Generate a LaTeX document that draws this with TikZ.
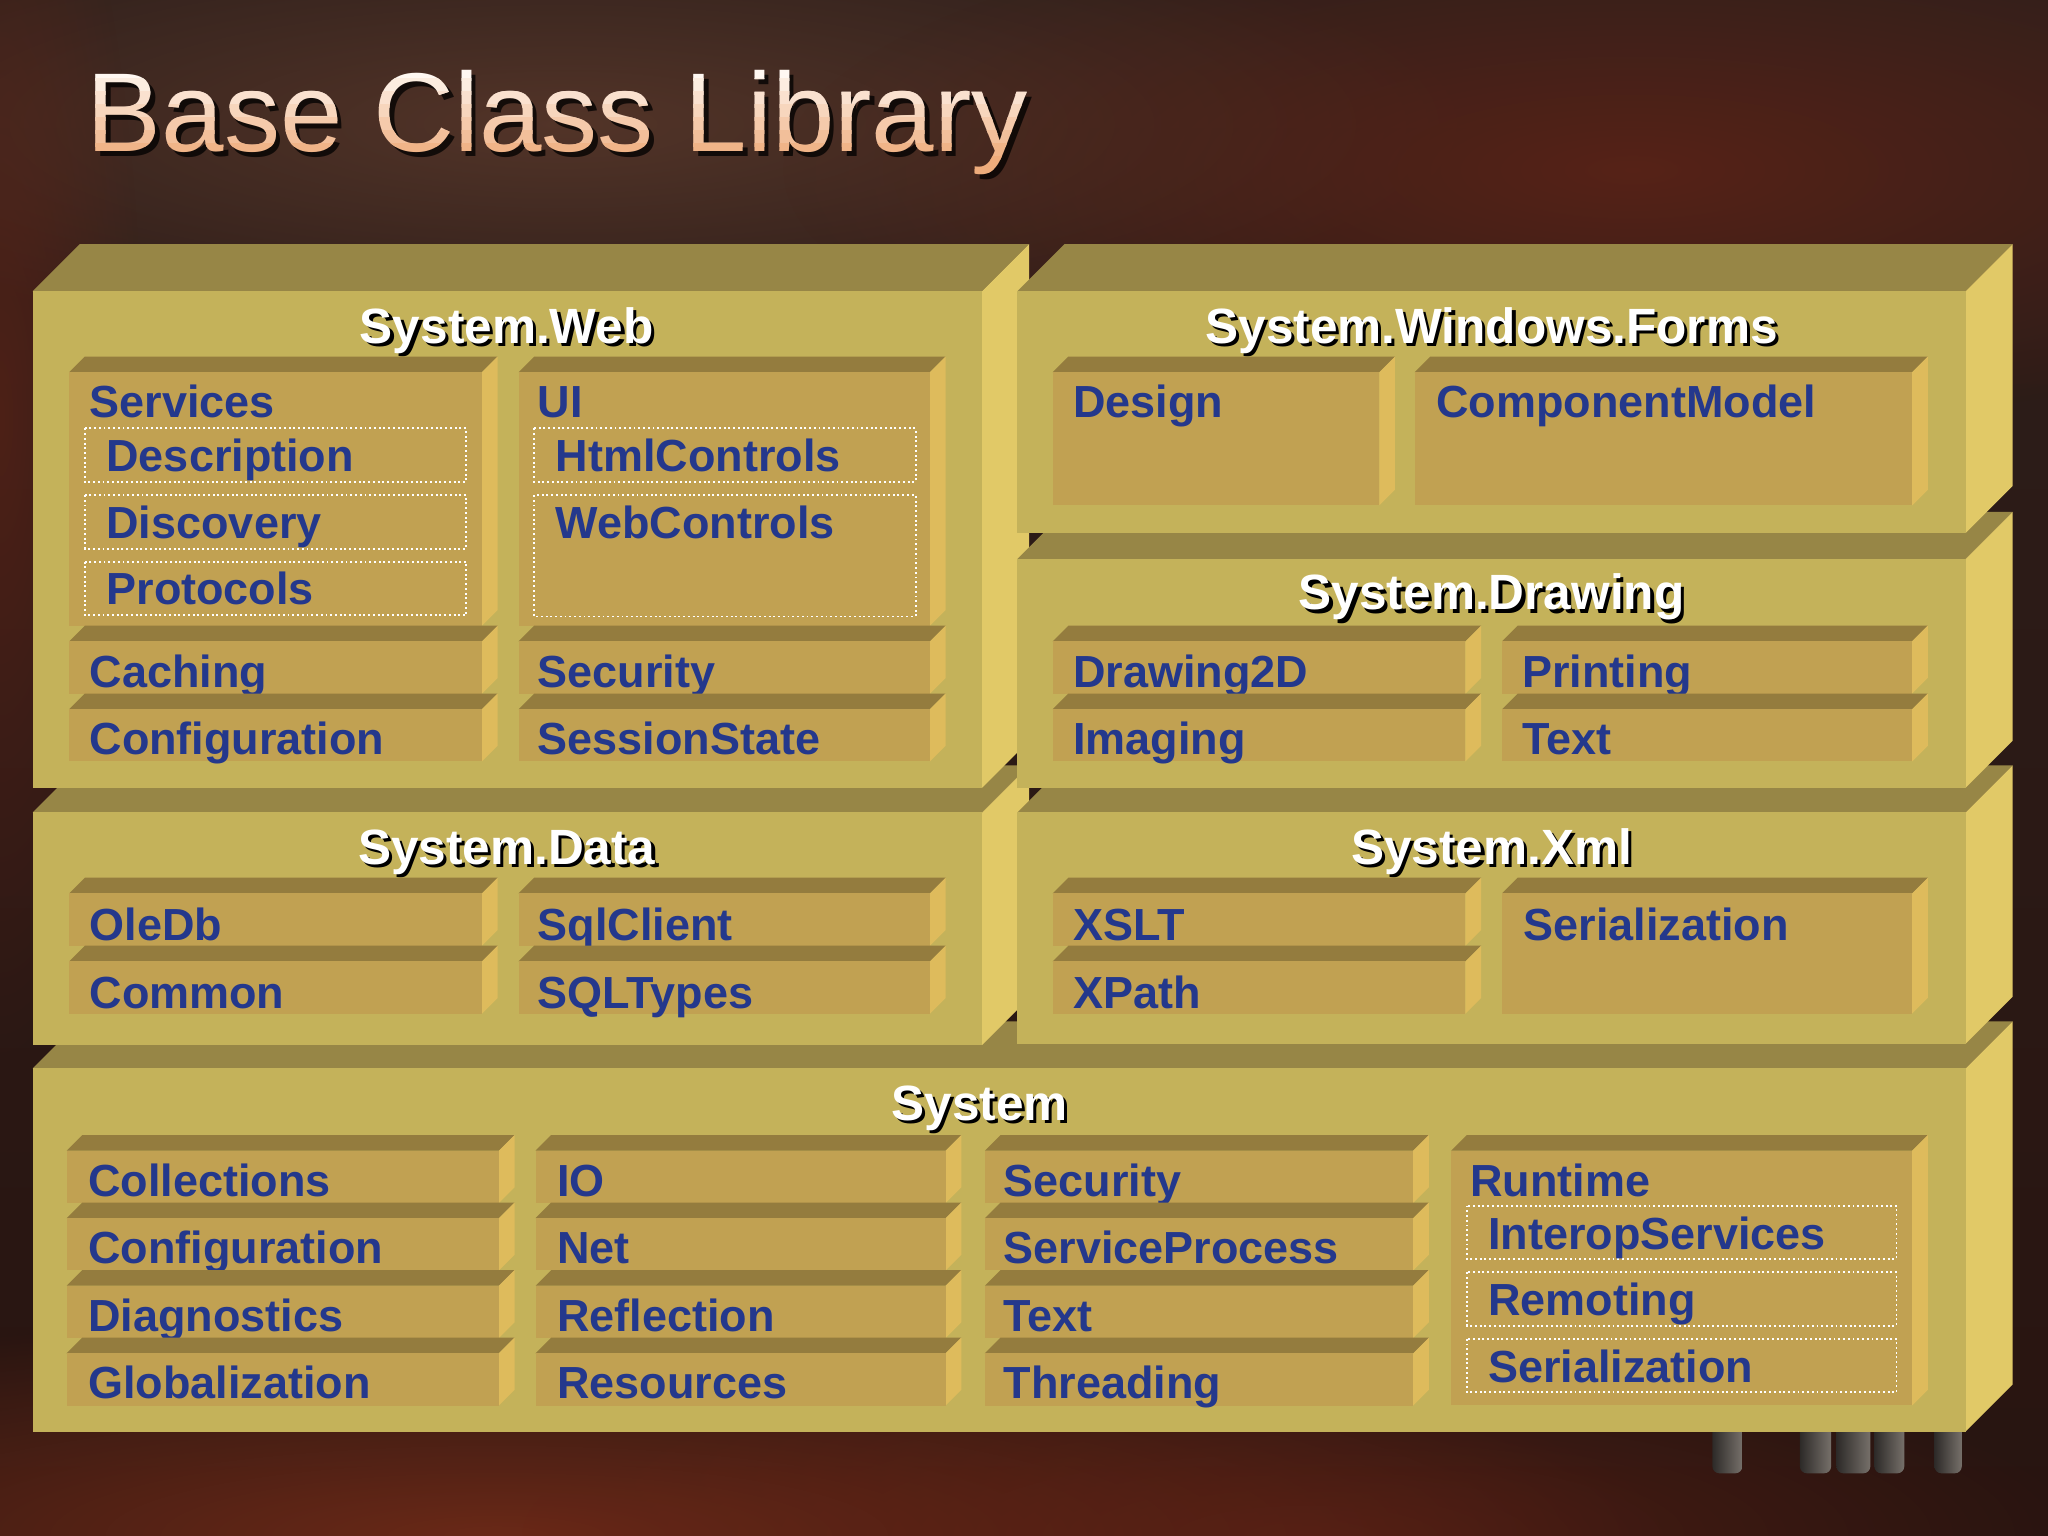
\documentclass[tikz,border=0pt]{standalone}
\usepackage{fontspec}
\setmainfont{Liberation Sans}
\usetikzlibrary{fadings}
\definecolor{bgtop}{RGB}{46,31,27}
\definecolor{bgbottom}{RGB}{40,20,16}
\definecolor{glowbrown}{RGB}{92,58,44}
\definecolor{glowred}{RGB}{104,36,22}
\definecolor{gloworange}{RGB}{128,48,26}
\definecolor{legdark}{RGB}{45,42,40}
\definecolor{leglight}{RGB}{118,112,106}
\definecolor{slabfront}{RGB}{196,178,90}
\definecolor{slabtop}{RGB}{151,134,70}
\definecolor{slabside}{RGB}{225,201,103}
\definecolor{boxfront}{RGB}{193,161,82}
\definecolor{boxtop}{RGB}{148,124,62}
\definecolor{boxside}{RGB}{222,187,92}
\definecolor{nsblue}{RGB}{36,56,140}
\definecolor{titletop}{RGB}{255,248,242}
\definecolor{titlebot}{RGB}{238,172,124}
\tikzfading[name=softglow, inner color=transparent!0, outer color=transparent!100]
\newcommand{\slab}[4]{%
  \fill[slabtop] (#1,#2) -- (#1+36,#2-36) -- (#3+36,#2-36) -- (#3,#2) -- cycle;
  \fill[slabside] (#3,#2) -- (#3+36,#2-36) -- (#3+36,#4-36) -- (#3,#4) -- cycle;
  \fill[slabfront] (#1,#2) rectangle (#3,#4);}
\newcommand{\nsbox}[4]{%
  \fill[boxtop] (#1,#2) -- (#1+12,#2-12) -- (#3+12,#2-12) -- (#3,#2) -- cycle;
  \fill[boxside] (#3,#2) -- (#3+12,#2-12) -- (#3+12,#4-12) -- (#3,#4) -- cycle;
  \fill[boxfront] (#1,#2) rectangle (#3,#4);}
\newcommand{\pkglabel}[4]{%
  \node[pkgshadow] (#1-sh) at (#2+2.5,#3+2.5) {#4};
  \node[pkgtitle] (#1) at (#2,#3) {#4};}

\begin{document}
\begin{tikzpicture}[x=0.0130612cm, y=-0.0130612cm,
  headline/.style={anchor=base west, inner sep=0pt, font=\fontsize{31.9}{36}\selectfont},
  pkgtitle/.style={anchor=base, inner sep=0pt, text=white, font=\fontsize{14.1}{16}\selectfont\bfseries},
  pkgshadow/.style={pkgtitle, text=black},
  nsitem/.style={anchor=base west, inner sep=0pt, text=nsblue, font=\fontsize{12.8}{15}\selectfont\bfseries},
  dotbox/.style={draw=white, line width=0.55pt, dash pattern=on 0.55pt off 0.8pt}]
\useasboundingbox (0,0) rectangle (1568,1176);
\shade[top color=bgtop, bottom color=bgbottom] (0,0) rectangle (1568,1176);
\fill[glowbrown, path fading=softglow, opacity=0.8] (430,95) ellipse (700 and 170);
\fill[glowred, path fading=softglow, opacity=0.7] (1250,130) ellipse (650 and 200);
\fill[glowred, path fading=softglow, opacity=0.55] (0,320) ellipse (110 and 500);
\fill[gloworange, path fading=softglow, opacity=0.75] (380,1176) ellipse (900 and 170);
\fill[glowred, path fading=softglow, opacity=0.6] (1000,1176) ellipse (600 and 140);
\foreach \lx/\lw in {1311/23,1378/24,1406/26,1435/23,1481/21}
  \shade[left color=legdark, right color=leglight, rounded corners=2pt] (\lx,1080) rectangle (\lx+\lw,1128);

\node[headline, text=black, opacity=0.75] (title-sh) at (69.5,119.5) {Base Class Library};
\foreach \k in {0,...,9} {
  \pgfmathtruncatemacro\pc{max(0,min(100,(\k-1)*15))}
  \begin{scope}
    \clip (0,40+10*\k) rectangle (900,52+10*\k);
    \node[headline, text=titlebot!\pc!titletop] (title-\k) at (66,116) {Base Class Library};
  \end{scope}
}

\slab{25}{818}{1505}{1096}
\pkglabel{sys}{750}{858}{System}
\foreach \nm [count=\i from 0] in {Collections,Configuration,Diagnostics,Globalization} {
  \nsbox{51}{881+51.7*\i}{382}{921+51.7*\i}
  \node[nsitem] (sys-\nm) at (67,916+51.7*\i) {\nm};
}
\foreach \nm [count=\i from 0] in {IO,Net,Reflection,Resources} {
  \nsbox{410}{881+51.7*\i}{724}{921+51.7*\i}
  \node[nsitem] (sys-\nm) at (426,916+51.7*\i) {\nm};
}
\foreach \nm [count=\i from 0] in {Security,ServiceProcess,Text,Threading} {
  \nsbox{754}{881+51.7*\i}{1082}{921+51.7*\i}
  \node[nsitem] (sys-\nm) at (768,916+51.7*\i) {\nm};
}
\nsbox{1111}{881}{1464}{1076}
\node[nsitem] (sys-Runtime) at (1125,916) {Runtime};
\foreach \nm [count=\i from 0] in {InteropServices,Remoting,Serialization} {
  \draw[dotbox] (1123,923+51*\i) rectangle (1452,964+51*\i);
  \node[nsitem] (sys-\nm) at (1139,956.5+51*\i) {\nm};
}

\slab{25}{622}{752}{800}
\pkglabel{data}{388}{662}{System.Data}
\foreach \nm [count=\i from 0] in {OleDb,Common} {
  \nsbox{53}{684+52*\i}{369}{724+52*\i}
  \node[nsitem] (data-\nm) at (68,720+52*\i) {\nm};
}
\foreach \nm [count=\i from 0] in {SqlClient,SQLTypes} {
  \nsbox{397}{684+52*\i}{712}{724+52*\i}
  \node[nsitem] (data-\nm) at (411,720+52*\i) {\nm};
}

\slab{25}{223}{752}{603}
\pkglabel{web}{388}{263}{System.Web}
\nsbox{53}{285}{369}{479}
\node[nsitem] (web-Services) at (68,320) {Services};
\foreach \nm [count=\i from 0] in {Description,Discovery,Protocols} {
  \draw[dotbox] (65,328+51*\i) rectangle (357,369+51*\i);
  \node[nsitem] (web-\nm) at (81,361+51*\i) {\nm};
}
\nsbox{397}{285}{712}{479}
\node[nsitem] (web-UI) at (411,320) {UI};
\draw[dotbox] (409,328) rectangle (701,369);
\node[nsitem] (web-HtmlControls) at (425,361) {HtmlControls};
\draw[dotbox] (409,379) rectangle (701,472);
\node[nsitem] (web-WebControls) at (425,412) {WebControls};
\foreach \nm [count=\i from 0] in {Caching,Configuration} {
  \nsbox{53}{491+52*\i}{369}{531+52*\i}
  \node[nsitem] (web-\nm) at (68,526+52*\i) {\nm};
}
\foreach \nm [count=\i from 0] in {Security,SessionState} {
  \nsbox{397}{491+52*\i}{712}{531+52*\i}
  \node[nsitem] (web-\nm) at (411,526+52*\i) {\nm};
}

\slab{779}{622}{1505}{799}
\pkglabel{xml}{1142}{662}{System.Xml}
\foreach \nm [count=\i from 0] in {XSLT,XPath} {
  \nsbox{806}{684+52*\i}{1122}{724+52*\i}
  \node[nsitem] (xml-\nm) at (821,720+52*\i) {\nm};
}
\nsbox{1150}{684}{1464}{776}
\node[nsitem] (xml-Serialization) at (1166,720) {Serialization};

\slab{779}{428}{1505}{603}
\pkglabel{draw}{1142}{467}{System.Drawing}
\foreach \nm [count=\i from 0] in {Drawing2D,Imaging} {
  \nsbox{806}{491+52*\i}{1122}{531+52*\i}
  \node[nsitem] (draw-\nm) at (821,526+52*\i) {\nm};
}
\foreach \nm [count=\i from 0] in {Printing,Text} {
  \nsbox{1150}{491+52*\i}{1464}{531+52*\i}
  \node[nsitem] (draw-\nm) at (1165,526+52*\i) {\nm};
}

\slab{779}{223}{1505}{408}
\pkglabel{forms}{1142}{263}{System.Windows.Forms}
\nsbox{806}{285}{1056}{387}
\node[nsitem] (forms-Design) at (821,320) {Design};
\nsbox{1083}{285}{1464}{387}
\node[nsitem] (forms-ComponentModel) at (1099,320) {ComponentModel};
\end{tikzpicture}
\end{document}
